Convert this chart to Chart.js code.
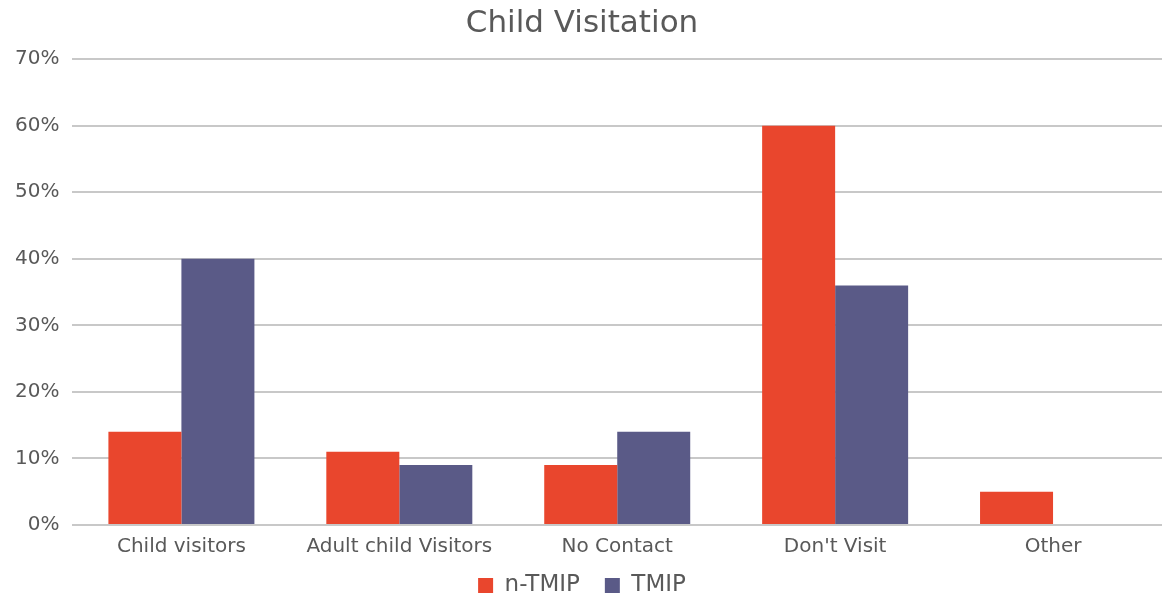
<!DOCTYPE html>
<html>
<head>
<meta charset="utf-8">
<script src="https://cdn.jsdelivr.net/npm/chart.js@4/dist/chart.umd.min.js"></script>
<style>
  html, body { margin: 0; padding: 0; background: #fff; }
  #wrap { width: 1166px; height: 596px; }
</style>
</head>
<body>
<div id="wrap"><canvas id="visitChart"></canvas></div>
<script>
const categories = ['Child visitors', 'Adult child Visitors', 'No Contact', "Don't Visit", 'Other'];
const nTmip = [14, 11, 9, 60, 5];
const tmip = [40, 9, 14, 36, 0];

const FONT = 'DejaVu Sans, Liberation Sans, sans-serif';

const ctx = document.getElementById('visitChart').getContext('2d');
new Chart(ctx, {
    type: 'bar',
    data: {
        labels: categories,
        datasets: [{
            label: 'n-TMIP',
            data: nTmip,
            backgroundColor: '#E9462D',
            borderWidth: 0
        }, {
            label: 'TMIP',
            data: tmip,
            backgroundColor: '#5A5A87',
            borderWidth: 0
        }]
    },
    options: {
        responsive: true,
        maintainAspectRatio: false,
        animation: false,
        layout: { padding: { left: 2, right: 4, top: 0, bottom: -11 } },
        plugins: {
            title: {
                display: true,
                text: 'Child Visitation',
                color: '#595959',
                font: { family: FONT, size: 31, weight: 'normal' },
                padding: { top: 5, bottom: 17 }
            },
            legend: {
                position: 'bottom',
                labels: {
                    color: '#595959',
                    boxWidth: 15,
                    boxHeight: 15,
                    padding: 3,
                    font: { family: FONT, size: 23 },
                    // pad the first entry so the two keys sit apart like the original
                    generateLabels: chart => Chart.defaults.plugins.legend.labels.generateLabels(chart)
                        .map((item, i) => ({ ...item, text: i === 0 ? item.text + '   ' : item.text }))
                }
            },
            tooltip: { enabled: false }
        },
        datasets: {
            bar: { categoryPercentage: 0.67, barPercentage: 1 }
        },
        scales: {
            x: {
                grid: { display: false, drawTicks: false },
                border: { display: false },
                afterFit: scale => { scale.height += 2; },
                ticks: {
                    color: '#595959',
                    padding: 10,
                    font: { family: FONT, size: 20 }
                }
            },
            y: {
                min: 0,
                max: 70,
                grid: { color: '#C8C8C8', lineWidth: 2, drawTicks: false },
                border: { display: false },
                ticks: {
                    stepSize: 10,
                    color: '#595959',
                    padding: 13,
                    font: { family: FONT, size: 20 },
                    callback: v => v + '%'
                }
            }
        }
    }
});
</script>
</body>
</html>
